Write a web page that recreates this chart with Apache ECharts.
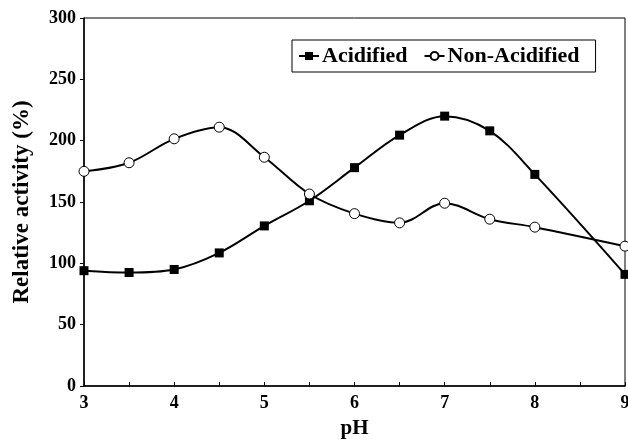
<!DOCTYPE html>
<html lang="en">
<head>
  <meta charset="UTF-8">
  <title>pH activity</title>
  <style>
    body { margin: 0; background: #fff; }
    #main { width: 628px; height: 442px; }
  </style>
</head>
<body>
  <div id="main"></div>
  <script src="https://cdn.jsdelivr.net/npm/echarts@6/dist/echarts.min.js"></script>
  <script>
    var phAcid = [3, 3.5, 4, 4.5, 5, 5.5, 6, 6.5, 7, 7.5, 8, 9];
    var acidified = [94, 92.5, 95, 108.5, 130.5, 151, 178, 204.5, 220, 208, 172.5, 91];
    var phNon = [3, 3.5, 4, 4.5, 5, 5.5, 6, 6.5, 7, 7.5, 8, 9];
    var nonAcidified = [175, 182, 201.5, 211, 186.5, 156.5, 140.5, 133, 149, 136, 129.5, 114];

    function pairs(xs, ys) {
      return xs.map(function (x, i) { return [x, ys[i]]; });
    }

    var font = 'Liberation Serif';
    var chart = echarts.init(document.getElementById('main'));
    chart.setOption({
      animation: false,
      textStyle: { fontFamily: font },
      grid: {
        left: 84, right: 3, top: 18, bottom: 56,
        outerBoundsMode: 'none',
        show: true, borderColor: '#000', borderWidth: 1
      },
      legend: {
        top: 40, left: 292,
        padding: [5, 16, 5, 6],
        itemGap: 16,
        itemWidth: 20,
        itemHeight: 10,
        borderColor: '#000',
        borderWidth: 1,
        textStyle: { fontFamily: font, fontWeight: 'bold', fontSize: 22, color: '#000', padding: [0, 0, 0, -2] },
        data: ['Acidified', 'Non-Acidified']
      },
      xAxis: {
        type: 'value', min: 3, max: 9, interval: 1,
        name: 'pH', nameLocation: 'middle', nameGap: 32,
        nameTextStyle: { fontFamily: font, fontWeight: 'bold', fontSize: 21, color: '#000' },
        axisLine: { lineStyle: { color: '#000', width: 1.5 } },
        axisTick: { inside: true, length: 4, lineStyle: { color: '#000' } },
        minorTick: { show: true, splitNumber: 2, length: 4, lineStyle: { color: '#000' } },
        axisLabel: { fontFamily: font, fontWeight: 'bold', fontSize: 18, color: '#000', margin: 8 },
        splitLine: { show: false }
      },
      yAxis: {
        type: 'value', min: 0, max: 300, interval: 50,
        name: 'Relative activity (%)', nameLocation: 'middle', nameGap: 50,
        nameTextStyle: { fontFamily: font, fontWeight: 'bold', fontSize: 23, color: '#000' },
        axisLine: { show: true, lineStyle: { color: '#000', width: 1.5 } },
        axisTick: { show: true, length: 4, lineStyle: { color: '#000' } },
        axisLabel: { fontFamily: font, fontWeight: 'bold', fontSize: 18, color: '#000', margin: 8 },
        splitLine: { show: false }
      },
      series: [
        {
          name: 'Acidified', type: 'line', smooth: 0.35,
          data: pairs(phAcid, acidified),
          symbol: 'rect', symbolSize: 9,
          itemStyle: { color: '#000' },
          lineStyle: { color: '#000', width: 2 }
        },
        {
          name: 'Non-Acidified', type: 'line', smooth: 0.35,
          data: pairs(phNon, nonAcidified),
          symbol: 'circle', symbolSize: 10,
          itemStyle: { color: '#fff', borderColor: '#000', borderWidth: 1 },
          lineStyle: { color: '#000', width: 2 }
        }
      ]
    });
  </script>
</body>
</html>
